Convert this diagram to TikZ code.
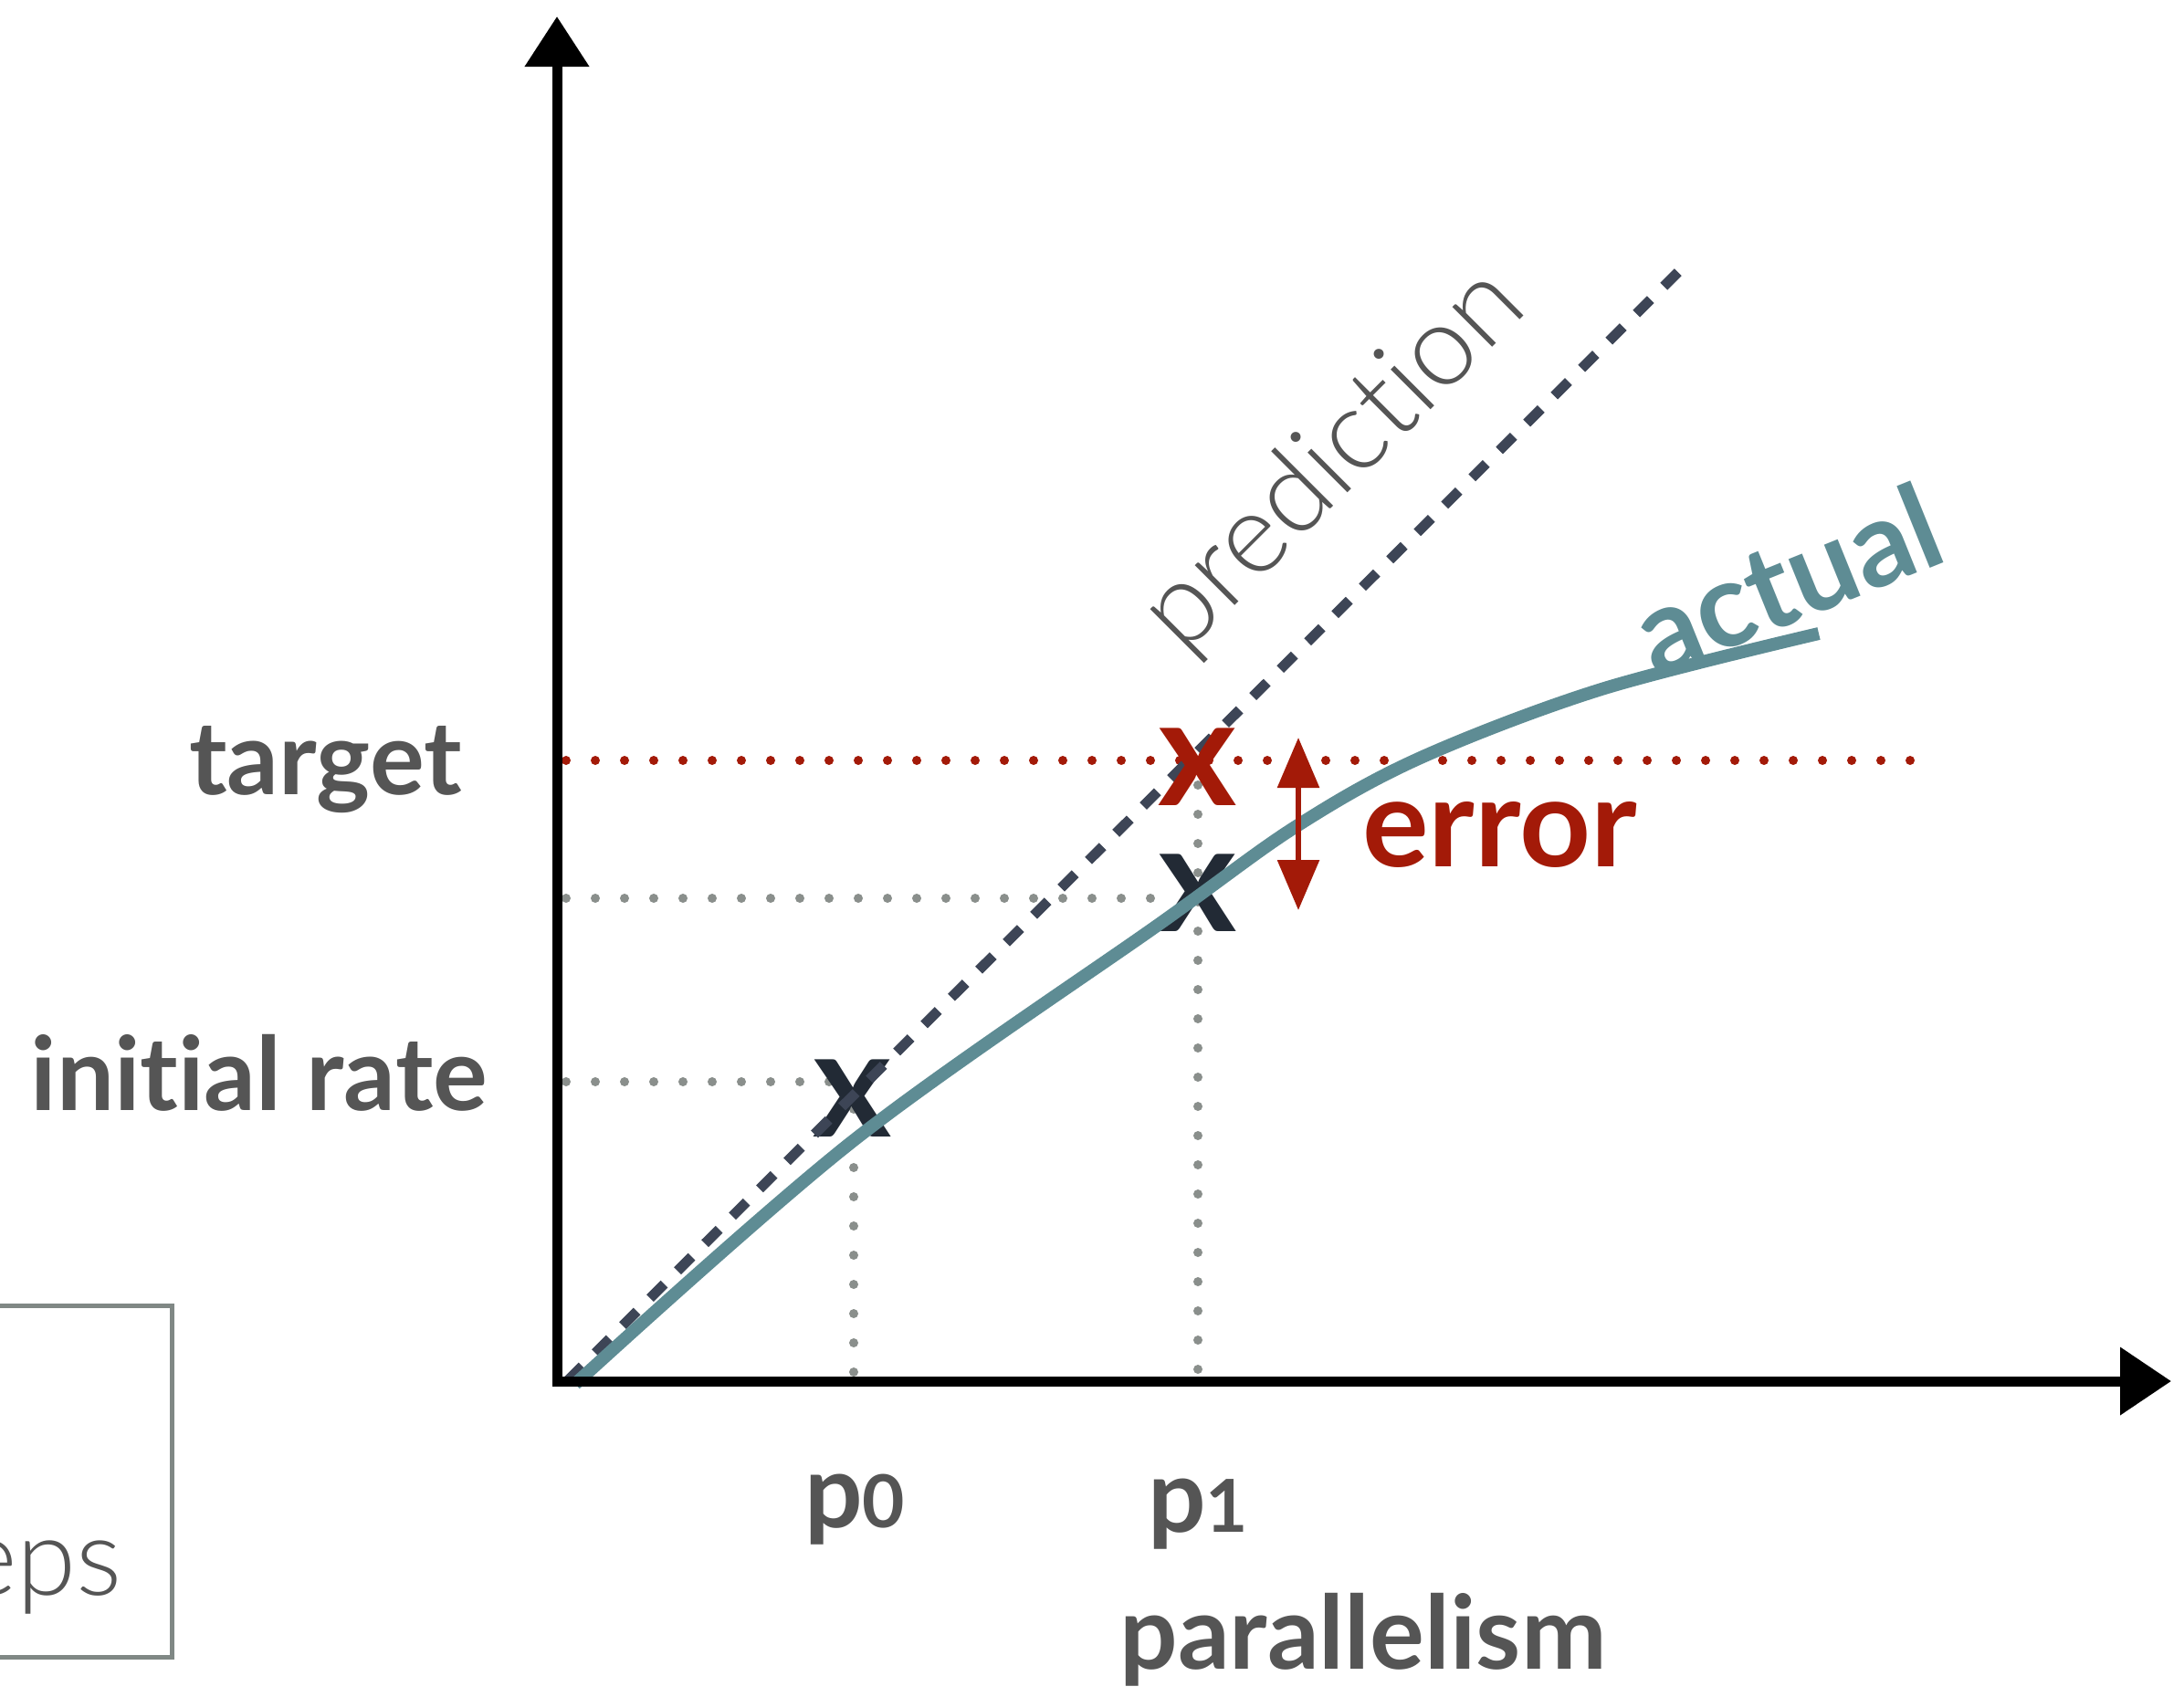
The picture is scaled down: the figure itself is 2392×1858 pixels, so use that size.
\documentclass[tikz,border=0pt]{standalone}
\usepackage{fontspec}
\setmainfont{Lato}[Ligatures=NoCommon]
\newfontfamily\lightfont{Lato Light}[Ligatures=NoCommon]
\usetikzlibrary{arrows.meta}
\definecolor{txtgrey}{HTML}{555555}
\definecolor{dotgrey}{HTML}{8A8F8C}
\definecolor{errred}{HTML}{A31A08}
\definecolor{preddark}{HTML}{3D4556}
\definecolor{xdark}{HTML}{222A35}
\definecolor{tealc}{HTML}{5E8C94}
\definecolor{boxgrey}{HTML}{808885}
\newcommand\subsz{\fontsize{80}{90}\selectfont}
\tikzset{
  axisline/.style={line width=11pt, black, line join=miter},
  greydots/.style={draw=dotgrey, line width=10pt, line cap=round, dash pattern=on 0pt off 32pt},
  reddots/.style={greydots, draw=errred},
  predline/.style={draw=preddark, line width=11pt, dash pattern=on 22pt off 20.4pt},
  actualline/.style={draw=tealc, line width=14pt},
  lab/.style={text=txtgrey, font=\bfseries\fontsize{112}{120}\selectfont, inner sep=0pt},
  xglyph/.style={inner sep=0pt, font=\bfseries\fontsize{165}{170}\selectfont},
  errarrow/.style={draw=errred, line width=6pt, {Triangle[length=55pt,width=45pt]}-{Triangle[length=55pt,width=45pt]}},
}
\begin{document}
\begin{tikzpicture}[x=1pt,y=-1pt]
\useasboundingbox (0,0) rectangle (2392,1858);
% coordinates
\coordinate (O) at (610,1513);
\coordinate (ytop) at (610,18);
\coordinate (xend) at (2378,1513);
% eps box
\draw[boxgrey, line width=5pt] (-30,1430) rectangle (188,1815);
\node[anchor=base east, inner sep=0pt, text=txtgrey, font=\lightfont\fontsize{118}{120}\selectfont] (eps) at (134,1747) {eps};
% guide coordinates
\coordinate (tL) at (620,833);
\coordinate (tR) at (2108,833);
\coordinate (mL) at (620,984);
\coordinate (mR) at (1290,984);
\coordinate (iL) at (620,1185);
\coordinate (iR) at (915,1185);
\coordinate (v0t) at (935,1215);
\coordinate (v0b) at (935,1535);
\coordinate (v1t) at (1312,860);
\coordinate (v1b) at (1312,1505);
% dotted guides
\draw[greydots] (mL) -- (mR);
\draw[greydots] (iL) -- (iR);
\draw[greydots] (v0t) -- (v0b);
\draw[greydots] (v1t) -- (v1b);
\draw[reddots] (tL) -- (tR);
% dark x marks
\node[xglyph, text=xdark] (x0) at (934,1203) {x};
\node[xglyph, text=xdark] (x1) at (1312,978) {x};
% prediction
\coordinate (ps) at (622,1512);
\coordinate (pe) at (1848,288);
\draw[predline] (ps) -- (pe);
% actual curve
\draw[actualline] plot[smooth, tension=0.55] coordinates {(630,1516) (934,1250) (1270,1012) (1420,905) (1556,830) (1754,755) (1992,694)};
% red x
\node[xglyph, text=errred] (xr) at (1312,840) {x};
% error arrow
\coordinate (e1) at (1422,808);
\coordinate (e2) at (1422,997);
\draw[errarrow] (e1) -- (e2);
\node[anchor=base west, inner sep=0pt, text=errred, font=\bfseries\fontsize{136}{140}\selectfont] (err) at (1492,949) {error};
% axes
\draw[axisline, {Triangle[length=55pt,width=68pt]}-{Triangle[length=56pt,width=72pt]}] (ytop) -- (O) -- (xend);
% labels
\node[lab, anchor=base east] (tgt) at (506,870) {target};
\node[lab, anchor=base east] (ini) at (534,1216) {initial rate};
\node[lab, anchor=base] (p0lab) at (936,1673) {p{\subsz 0}};
\node[lab, anchor=base] (p1lab) at (1312,1678) {p{\subsz 1}};
\node[lab, anchor=base] (par) at (1493,1828) {parallelism};
\node[inner sep=0pt, text=txtgrey, rotate=45, font=\lightfont\fontsize{124}{126}\selectfont] (pred) at (1462,505) {prediction};
\node[inner sep=0pt, text=tealc, rotate=22, font=\bfseries\fontsize{130}{132}\selectfont] (act) at (1957,634) {actual};
\end{tikzpicture}
\end{document}
